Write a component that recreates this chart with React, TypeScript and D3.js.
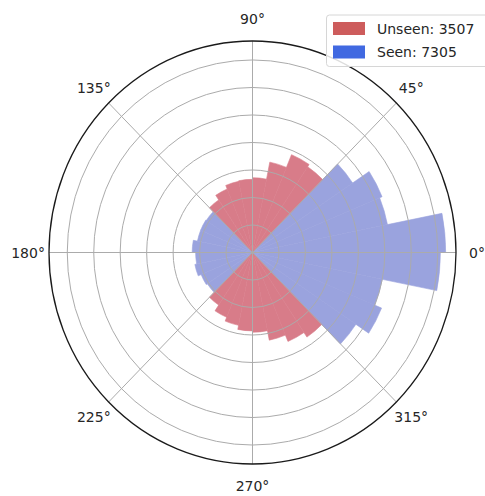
import React from "react";
import * as d3 from "d3";

// 32 bins of 11.25 degrees, starting at 0 degrees (counter-clockwise)
const binCount = 32;
const seenValues = [
  7.3, 5.2, 5.3, 4.55, 0, 0, 0, 0,
  0, 0, 0, 0, 2.1, 2.12, 2.12, 2.28,
  2.15, 2.22, 2.1, 2.05, 0, 0, 0, 0,
  0, 0, 0, 0, 4.7, 5.28, 5.0, 7.1,
];
const unseenValues = [
  0, 0, 0, 0, 3.75, 3.85, 3.35, 2.72,
  2.66, 2.64, 2.5, 2.3, 0, 0, 0, 0,
  0, 0, 0, 0, 2.3, 2.55, 2.7, 2.85,
  2.9, 3.25, 3.5, 3.7, 0, 0, 0, 0,
];
const radialTicks = [1, 2, 3, 4, 5, 6, 7];
const angleTicks = [0, 45, 90, 135, 180, 225, 270, 315];
const legendLabels = ["Unseen: 3507", "Seen: 7305"];
const rMax = 7.69;

const W = 485;
const H = 496;
const cx = 252.5;
const cy = 252.5;
const R = 203.5;
const ky = 211.5 / 203.5;

const seenFill = "#9aa3de";
const unseenFill = "#d87c89";
const seenLegend = "#4169e1";
const unseenLegend = "#cd5c5c";

export default function App() {
  const r = d3.scaleLinear().domain([0, rMax]).range([0, R]);
  const binW = (2 * Math.PI) / binCount;
  const arc = d3.arc<any>();

  const barPath = (v: number, i: number) => {
    const t1 = i * binW;
    const t2 = (i + 1) * binW;
    return arc({
      innerRadius: 0,
      outerRadius: r(v),
      startAngle: Math.PI / 2 - t2,
      endAngle: Math.PI / 2 - t1,
    }) as string;
  };

  const font = "'DejaVu Sans', sans-serif";

  return (
    <svg
      width={W}
      height={H}
      style={{ position: "absolute", left: 0, top: 0, background: "#fff" }}
      fontFamily={font}
    >
      <g transform={`translate(${cx},${cy}) scale(1,${ky})`}>
        {seenValues.map((v, i) =>
          v > 0 ? (
            <path
              key={"s" + i}
              d={barPath(v, i)}
              fill={seenFill}
              stroke={seenFill}
              strokeWidth={0.6}
              strokeLinejoin="miter"
              vectorEffect="non-scaling-stroke"
            />
          ) : null
        )}
        {unseenValues.map((v, i) =>
          v > 0 ? (
            <path
              key={"u" + i}
              d={barPath(v, i)}
              fill={unseenFill}
              stroke={unseenFill}
              strokeWidth={0.6}
              vectorEffect="non-scaling-stroke"
            />
          ) : null
        )}
        {radialTicks.map((t) => (
          <circle
            key={"rc" + t}
            r={r(t)}
            fill="none"
            stroke="#ababab"
            strokeWidth={1}
            vectorEffect="non-scaling-stroke"
          />
        ))}
        {angleTicks.map((a) => {
          const th = (a * Math.PI) / 180;
          return (
            <line
              key={"sp" + a}
              x1={0}
              y1={0}
              x2={r(rMax) * Math.cos(th)}
              y2={-r(rMax) * Math.sin(th)}
              stroke="#ababab"
              strokeWidth={1}
              vectorEffect="non-scaling-stroke"
            />
          );
        })}
        <circle
          r={r(rMax)}
          fill="none"
          stroke="#1a1a1a"
          strokeWidth={1.3}
          vectorEffect="non-scaling-stroke"
        />
      </g>
      {angleTicks.map((a) => {
        const th = (a * Math.PI) / 180;
        const lr = R * 1.103;
        const x = cx + lr * Math.cos(th);
        const y = cy - lr * ky * Math.sin(th);
        return (
          <text
            key={"al" + a}
            x={x}
            y={y}
            textAnchor="middle"
            dominantBaseline="central"
            fontSize={14}
            fill="#262626"
          >
            {a}°
          </text>
        );
      })}
      <g>
        <rect
          x={326.5}
          y={15}
          width={170}
          height={51.5}
          rx={3}
          fill="#fff"
          fillOpacity={0.85}
          stroke="#d6d6d6"
          strokeWidth={1}
        />
        {legendLabels.map((lab, i) => (
          <g key={"lg" + i} transform={`translate(0,${i * 23.5})`}>
            <rect
              x={333}
              y={22}
              width={32}
              height={13}
              fill={i === 0 ? unseenLegend : seenLegend}
            />
            <text
              x={377}
              y={28.5}
              dominantBaseline="central"
              fontSize={14}
              fill="#262626"
            >
              {lab}
            </text>
          </g>
        ))}
      </g>
    </svg>
  );
}
